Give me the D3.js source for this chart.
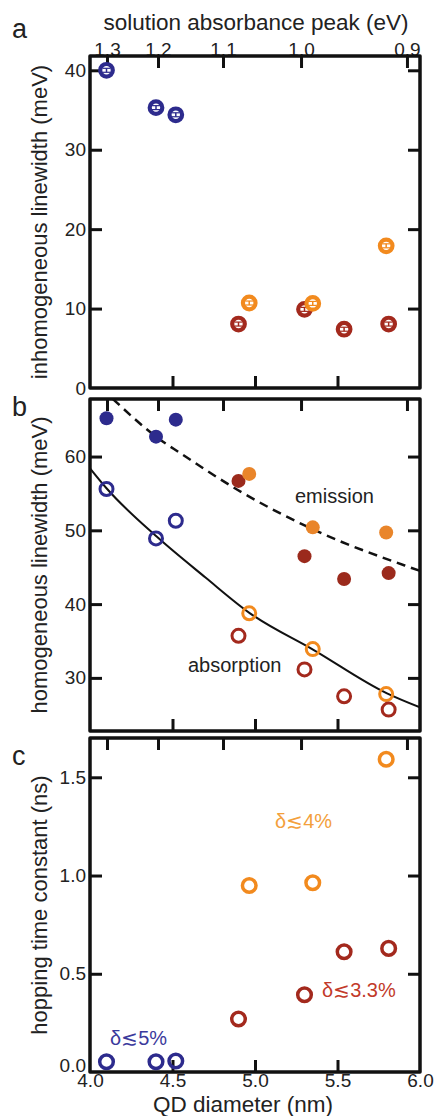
<!DOCTYPE html>
<html>
<head>
<meta charset="utf-8">
<script src="https://cdn.jsdelivr.net/npm/d3@7"></script>
<style>
  body { margin:0; background:#fff; }
  svg { font-family: "Liberation Sans", Arial, sans-serif; }
  .tick line { stroke:#111; stroke-width:3; }
  .tick text { fill:#222; font-size:19px; }
  .domain { display:none; }
</style>
</head>
<body>
<svg id="fig" width="436" height="1116"></svg>
<script>
// diameters (nm) of the three sample groups
var blueD = [4.10, 4.40, 4.52];
var redD = [4.90, 5.30, 5.54, 5.81];
var orangeD = [4.965, 5.35, 5.795];

// a: inhomogeneous linewidth (meV) + small error
var inhomBlue = [40.0, 35.3, 34.4];
var inhomRed = [8.05, 9.9, 7.4, 8.05];
var inhomOrange = [10.7, 10.65, 17.9];
var inhomErr = 0.25;

// b: homogeneous linewidth (meV)
var emisBlue = [65.2, 62.7, 65.0];
var emisRed = [56.7, 46.5, 43.4, 44.2];
var emisOrange = [57.65, 50.4, 49.7];
var absBlue = [55.6, 48.9, 51.3];
var absRed = [35.7, 31.15, 27.5, 25.7];
var absOrange = [38.75, 33.9, 27.8];

// fit curves
var emisFitD = [4.139, 4.424, 4.545, 4.893, 5.359, 5.924, 6.0];
var emisFitV = [67.8, 62.3, 60.5, 55.5, 50.05, 45.1, 44.5];
var absFitD = [4.0, 4.1, 4.404, 4.7, 4.97, 5.354, 5.8, 6.0];
var absFitV = [58.4, 55.7, 49.15, 43.6, 38.75, 33.8, 27.9, 26.0];

// c: hopping time constant (ns)
var hopBlue = [0.052, 0.052, 0.056];
var hopRed = [0.27, 0.393, 0.612, 0.629];
var hopOrange = [0.949, 0.963, 1.592];

// top axis: solution absorbance peak (eV) and where they sit in diameter
var energyTicks = [1.3, 1.2, 1.1, 1.0, 0.9];
var energyTickD = [4.103, 4.412, 4.806, 5.279, 5.921];

var diamTicks = [4.0, 4.5, 5.0, 5.5, 6.0];

var BLUE = "#2d2b8d", RED = "#a3291d", ORANGE = "#f28a1e";
var REDF = "#9b2a1c", ORANGEF = "#e9852a";

var svg = d3.select("#fig");
svg.append("rect").attr("width", 436).attr("height", 1116).attr("fill", "#fff");

var x = d3.scaleLinear().domain([4, 6]).range([90, 420]);
var L = 90, R = 420;

var panels = [
    {top:56, bottom:388, domain:[0, 41.8], ticks:[0,10,20,30,40], fmt:d3.format("d"),
     letter:"a", ly:38, title:"inhomogeneous linewidth (meV)"},
    {top:399, bottom:731, domain:[22.8, 67.8], ticks:[30,40,50,60], fmt:d3.format("d"),
     letter:"b", ly:416, title:"homogeneous linewidth (meV)"},
    {top:738, bottom:1072, domain:[0, 1.70], ticks:[0,0.5,1.0,1.5], fmt:d3.format(".1f"),
     letter:"c", ly:765, title:"hopping time constant (ns)"}
];

panels.forEach(function(p, k) {
    p.y = d3.scaleLinear().domain(p.domain).range([p.bottom, p.top]);
    var g = svg.append("g");

    // left axis
    var la = g.append("g").attr("transform", "translate(" + L + ",0)")
        .call(d3.axisLeft(p.y).tickValues(p.ticks).tickFormat(p.fmt).tickSize(-12).tickPadding(4));
    la.selectAll(".tick").filter(function(d){ return d === 0; }).select("line").remove();
    // the 0.0 of panel c sits a bit higher so it does not run into 4.0
    if (k === 2) la.selectAll(".tick").filter(function(d){ return d === 0; }).select("text").attr("dy", "-0.05em");

    // right axis, ticks only
    g.append("g").attr("transform", "translate(" + R + ",0)")
        .call(d3.axisRight(p.y).tickValues(p.ticks.filter(function(d){ return d !== 0; })).tickFormat("").tickSize(-12));

    // top axis, energy ticks
    g.append("g").attr("transform", "translate(0," + p.top + ")")
        .call(d3.axisTop(x).tickValues(energyTickD)
            .tickFormat(function(d, i){ return k === 0 ? energyTicks[i].toFixed(1) : ""; })
            .tickSize(-12).tickPadding(0));

    // bottom axis
    var ba = g.append("g").attr("transform", "translate(0," + p.bottom + ")")
        .call(d3.axisBottom(x).tickValues(diamTicks)
            .tickFormat(function(d){ return k === 2 ? d.toFixed(1) : ""; })
            .tickSize(-12).tickPadding(1));
    ba.selectAll(".tick").filter(function(d){ return d === 4 || d === 6; }).select("line").remove();

    // frame
    g.append("rect").attr("x", L).attr("y", p.top)
        .attr("width", R - L).attr("height", p.bottom - p.top)
        .attr("fill", "none").attr("stroke", "#111").attr("stroke-width", 3.5)
        .attr("stroke-linejoin", "round");

    // panel letter
    svg.append("text").attr("x", 12).attr("y", p.ly)
        .style("font-size", "27px").style("fill", "#222").text(p.letter);

    // y title
    svg.append("text")
        .attr("transform", "translate(47," + ((p.top + p.bottom) / 2) + ") rotate(-90)")
        .attr("text-anchor", "middle")
        .style("font-size", "22px").style("fill", "#222")
        .text(p.title);
});

function pts(ds, vs) { return ds.map(function(d, i){ return {d:d, v:vs[i]}; }); }

// ---- panel a
var pa = panels[0];
function ringErr(data, col) {
    var m = svg.append("g").selectAll("g").data(data).enter().append("g");
    m.append("circle")
        .attr("cx", function(d){ return x(d.d); })
        .attr("cy", function(d){ return pa.y(d.v); })
        .attr("r", 6.3).attr("fill", "#fff")
        .attr("stroke", col).attr("stroke-width", 4.2);
    m.append("line")
        .attr("x1", function(d){ return x(d.d); }).attr("x2", function(d){ return x(d.d); })
        .attr("y1", function(d){ return pa.y(d.v - inhomErr); })
        .attr("y2", function(d){ return pa.y(d.v + inhomErr); })
        .attr("stroke", col).attr("stroke-width", 1.5);
    [-1, 1].forEach(function(s) {
        m.append("line")
            .attr("x1", function(d){ return x(d.d) - 4; }).attr("x2", function(d){ return x(d.d) + 4; })
            .attr("y1", function(d){ return pa.y(d.v + s * inhomErr); })
            .attr("y2", function(d){ return pa.y(d.v + s * inhomErr); })
            .attr("stroke", col).attr("stroke-width", 1.2);
    });
}
ringErr(pts(blueD, inhomBlue), BLUE);
ringErr(pts(redD, inhomRed), RED);
ringErr(pts(orangeD, inhomOrange), ORANGE);

// ---- panel b
var pb = panels[1];
svg.append("clipPath").attr("id", "clipb").append("rect")
    .attr("x", L).attr("y", pb.top).attr("width", R - L).attr("height", pb.bottom - pb.top);

var line = d3.line()
    .x(function(d){ return x(d.d); })
    .y(function(d){ return pb.y(d.v); })
    .curve(d3.curveMonotoneX);

svg.append("path").datum(pts(emisFitD, emisFitV)).attr("d", line)
    .attr("clip-path", "url(#clipb)")
    .attr("fill", "none").attr("stroke", "#111").attr("stroke-width", 2.5)
    .attr("stroke-dasharray", "9,6");
svg.append("path").datum(pts(absFitD, absFitV)).attr("d", line)
    .attr("clip-path", "url(#clipb)")
    .attr("fill", "none").attr("stroke", "#111").attr("stroke-width", 2);

function dots(data, col, yS) {
    svg.append("g").selectAll("circle").data(data).enter().append("circle")
        .attr("cx", function(d){ return x(d.d); })
        .attr("cy", function(d){ return yS(d.v); })
        .attr("r", 7).attr("fill", col);
}
function rings(data, col, yS, r, w) {
    svg.append("g").selectAll("circle").data(data).enter().append("circle")
        .attr("cx", function(d){ return x(d.d); })
        .attr("cy", function(d){ return yS(d.v); })
        .attr("r", r).attr("fill", "none")
        .attr("stroke", col).attr("stroke-width", w);
}
dots(pts(blueD, emisBlue), BLUE, pb.y);
dots(pts(redD, emisRed), REDF, pb.y);
dots(pts(orangeD, emisOrange), ORANGEF, pb.y);
rings(pts(blueD, absBlue), BLUE, pb.y, 6.5, 3);
rings(pts(orangeD, absOrange), ORANGE, pb.y, 6.5, 3);
rings(pts(redD, absRed), RED, pb.y, 6.5, 3);

svg.append("text").attr("x", 295).attr("y", 503)
    .style("font-size", "20px").style("fill", "#222").text("emission");
svg.append("text").attr("x", 188).attr("y", 672)
    .style("font-size", "20px").style("fill", "#222").text("absorption");

// ---- panel c
var pc = panels[2];
rings(pts(blueD, hopBlue), BLUE, pc.y, 6.8, 3.5);
rings(pts(redD, hopRed), RED, pc.y, 6.8, 3.5);
rings(pts(orangeD, hopOrange), ORANGE, pc.y, 6.8, 3.5);

svg.append("text").attr("x", 275).attr("y", 828)
    .style("font-size", "20px").style("fill", "#f3a03c").text("δ≲4%");
svg.append("text").attr("x", 322).attr("y", 997)
    .style("font-size", "20px").style("fill", "#c23a2a").text("δ≲3.3%");
svg.append("text").attr("x", 110).attr("y", 1045)
    .style("font-size", "20px").style("fill", "#3b3a9c").text("δ≲5%");

// outer titles
svg.append("text").attr("x", 256).attr("y", 30).attr("text-anchor", "middle")
    .style("font-size", "22.5px").style("fill", "#222").text("solution absorbance peak (eV)");
svg.append("text").attr("x", 243).attr("y", 1112).attr("text-anchor", "middle")
    .style("font-size", "22.5px").style("fill", "#222").text("QD diameter (nm)");
</script>
</body>
</html>
